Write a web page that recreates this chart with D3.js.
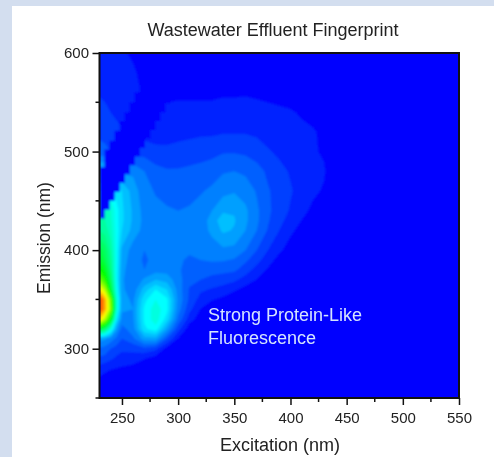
<!DOCTYPE html>
<html>
<head>
<meta charset="utf-8">
<script src="https://cdnjs.cloudflare.com/ajax/libs/d3/7.8.5/d3.min.js"></script>
<style>
  html, body { margin: 0; padding: 0; background: #fff; }
  text { font-family: "Liberation Sans", Arial, sans-serif; fill: #222; }
</style>
</head>
<body>
<div class="chart"></div>
<script>
// Grid, intensity in contour levels (0 = blue, 32 = red)
const excitation = [230,235,240,245,250,260,270,280,290,300,310,320,330,340,350,360,370,380,390,400,410,420,430,440];
const emission = [600,580,560,540,520,500,480,460,440,430,420,400,390,380,370,360,350,340,330,320,310,300,290,280,270,250];
// one row per emission value, missing columns on the right are 0
const intensity = [
  [1.3,1.3,1.3,1.2,1.1,0.9,0.6,0.2],
  [1.4,1.4,1.4,1.3,1.2,1.1,0.8,0.3,0.1,0.1,0.1,0.1,0.1,0.1,0.1,0.1,0.1],
  [1.9,1.8,1.7,1.6,1.4,1.2,0.9,0.7,0.8,0.8,0.8,0.8,0.8,0.9,0.9,0.9,0.8,0.7,0.6,0.5,0.3,0.2],
  [2.3,2.2,2.0,1.8,1.6,1.4,1.2,1.1,1.2,1.3,1.3,1.3,1.3,1.3,1.3,1.4,1.4,1.3,1.2,1.1,0.9,0.7,0.3],
  [2.8,2.7,2.5,2.3,2.1,1.8,1.5,1.3,1.4,1.6,1.7,1.8,1.8,1.9,1.9,1.9,1.8,1.6,1.4,1.3,1.2,1.1,0.8],
  [3.3,3.2,3.0,2.8,2.6,2.6,2.6,2.4,2.3,2.4,2.5,2.6,2.7,2.9,2.9,2.8,2.5,2.1,1.8,1.5,1.3,1.1,0.9,0.3],
  [6.5,6.5,6.0,5.5,4.8,4.8,4.0,3.3,3.1,3.1,3.2,3.3,3.5,3.9,4.0,3.8,3.4,2.8,2.3,1.9,1.6,1.3,1.1,0.3],
  [9.0,9.0,8.5,7.5,7.0,5.5,4.4,3.9,3.7,3.6,3.7,3.9,4.2,4.7,4.9,4.6,3.9,3.1,2.6,2.1,1.6,1.2,0.9,0.1],
  [11,11,10,8.5,7.2,5.8,4.6,4.3,4.1,4.0,4.1,4.4,5.0,5.8,5.9,5.2,4.2,3.2,2.5,1.9,1.3,0.8,0.4],
  [11.5,11,10.2,8.5,7.2,5.8,4.7,4.4,4.2,4.1,4.2,4.6,5.3,6.8,6.1,5.2,4.2,3.1,2.3,1.6,1.0,0.5,0.2],
  [12,11.5,10.5,8.7,7.0,5.6,4.6,4.4,4.2,4.1,4.2,4.6,5.2,6.2,5.9,5.0,4.0,2.9,2.0,1.2,0.7,0.3],
  [14.5,13.5,11.5,8.7,5.8,4.5,4.0,4.2,4.2,4.1,4.1,4.3,4.6,4.8,4.7,4.0,3.0,2.0,1.2,0.6,0.2],
  [15.5,14,12,8.7,5.6,4.3,3.9,4.2,4.3,4.1,3.9,4.0,4.1,4.1,3.9,3.2,2.4,1.4,0.7,0.3],
  [17,15.5,12.5,8.5,5.4,4.1,4.0,4.6,4.6,4.1,3.7,3.5,3.5,3.3,3.2,2.5,1.6,0.9,0.4],
  [20.5,17.5,13.5,8.5,5.2,4.1,5.2,6.0,5.6,4.4,3.3,3.0,2.6,2.5,2.2,1.6,1.0,0.4],
  [25.5,22,15,9.0,5.2,4.4,6.5,8.0,7.0,4.6,2.9,2.2,1.9,1.6,1.2,0.7,0.3],
  [31,27,20,10,5.4,4.8,7.7,9.0,8.2,4.8,2.8,1.6,1.1,0.8,0.4,0.2],
  [31,27,21,10,5.2,5.0,8.2,9.6,8.3,4.5,2.3,1.0,0.5,0.2],
  [26,22,16,8.0,4.6,4.9,8.2,9.6,7.5,3.8,1.5,0.5],
  [15,13,9.5,5.5,3.6,4.6,7.8,8.6,5.5,2.4,0.5],
  [5.5,5.2,4.5,3.8,3.0,3.8,5.5,5.6,3.0,1.0],
  [3.8,3.6,3.0,2.6,2.2,2.3,2.7,2.3,0.7],
  [2.8,2.6,2.2,1.8,1.6,1.5,1.1,0.6],
  [1.5,1.3,1.1,1.0,0.9,0.7,0.2],
  [0.9,0.7,0.5,0.3,0.2,0.1],
  [0.2]
];
// masked (2nd order scatter) staircase band, also
const maskEx = [230,234.5,239,243.5,248,252.5,257,261.5,266,270.5,275,279.5,284,288.5,293];
const maskLow = [432,441,450,459,468,477,486,495,504,513,522,531,540,549,549];
const maskHigh = [484,502,511,521,531,540,550,560,570,580,600,600,600,600,600];

const xTicks = [250,300,350,400,450,500,550];
const xMinorTicks = [275,325,375,425,475,525];
const yTicks = [300,400,500,600];
const yMinorTicks = [250,350,450,550];
const levels = d3.range(1, 33);

const margin = { top: 53, right: 35, bottom: 59, left: 99.5 };
const width = 494 - margin.left - margin.right;
const height = 457 - margin.top - margin.bottom;

const xScale = d3.scaleLinear().domain([230, 550]).range([0, width]);
const yScale = d3.scaleLinear().domain([250, 600]).range([height, 0]);
const colorScale = d3.scaleLinear()
  .domain([0, 8, 16, 24, 32])
  .range(["#0000ff", "#00ffff", "#00ff00", "#ffff00", "#ff0000"]);

// grid index -> nm, the grid is not evenly spaced
const exAt = d3.scaleLinear().domain(d3.range(excitation.length)).range(excitation).clamp(true);
const emAt = d3.scaleLinear().domain(d3.range(emission.length)).range(emission).clamp(true);

const svg = d3.select(".chart").append("svg")
  .attr("width", 494)
  .attr("height", 457)
  .style("display", "block");

const defs = svg.append("defs");
defs.append("clipPath").attr("id", "plot").append("rect")
  .attr("width", width).attr("height", height);
defs.append("filter").attr("id", "soft").append("feGaussianBlur").attr("stdDeviation", 1.1);
defs.append("filter").attr("id", "softText").append("feGaussianBlur").attr("stdDeviation", 0.35);

// page strips on the left and top
svg.append("rect").attr("width", 12).attr("height", 457).attr("fill", "#d3deef");
svg.append("rect").attr("width", 494).attr("height", 6).attr("fill", "#d3deef");

const g = svg.append("g")
  .attr("transform", `translate(${margin.left},${margin.top})`);

const plot = g.append("g").attr("clip-path", "url(#plot)");
plot.append("rect").attr("width", width).attr("height", height).attr("fill", colorScale(0));

const contours = d3.contours()
  .size([excitation.length, emission.length])
  .thresholds(levels)(intensity.flatMap(row => excitation.map((_, i) => row[i] || 0)));

const toPlot = d3.geoTransform({
  point(x, y) {
    this.stream.point(xScale(exAt(x - 0.5)), yScale(emAt(y - 0.5)));
  }
});

const field = plot.append("g").attr("filter", "url(#soft)");
field.selectAll("path")
  .data(contours)
  .enter()
  .append("path")
  .attr("d", d3.geoPath(toPlot))
  .attr("fill", d => colorScale(d.value));

// scatter band goes on top as plain blue steps
field.append("path")
  .datum(maskEx)
  .attr("fill", colorScale(0))
  .attr("d", d3.area()
    .curve(d3.curveStepAfter)
    .x(d => xScale(d))
    .y0((d, i) => yScale(maskLow[i]))
    .y1((d, i) => yScale(maskHigh[i])));

// axes, major ticks and shorter minor ones
const xAxis = d3.axisBottom(xScale).tickValues(xTicks).tickSize(7).tickPadding(7);
const yAxis = d3.axisLeft(yScale).tickValues(yTicks).tickSize(7).tickPadding(3.5);

const xG = g.append("g").attr("transform", `translate(0,${height})`).call(xAxis);
const yG = g.append("g").call(yAxis);
xG.selectAll(".minor").data(xMinorTicks).enter().append("line").attr("class", "minor")
  .attr("x1", d => xScale(d)).attr("x2", d => xScale(d)).attr("y2", 4);
yG.selectAll(".minor").data(yMinorTicks).enter().append("line").attr("class", "minor")
  .attr("y1", d => yScale(d)).attr("y2", d => yScale(d)).attr("x2", -4);
g.selectAll(".tick line, .minor").attr("stroke", "#111").attr("stroke-width", 1.5);
g.selectAll(".domain").remove();
g.selectAll(".tick text").style("font-size", "15px").attr("filter", "url(#softText)");

g.append("rect")
  .attr("width", width).attr("height", height)
  .attr("fill", "none").attr("stroke", "#111").attr("stroke-width", 2);

svg.append("text").attr("x", 273).attr("y", 36).attr("text-anchor", "middle")
  .attr("filter", "url(#softText)")
  .style("font-size", "18px").text("Wastewater Effluent Fingerprint");
svg.append("text").attr("x", 280).attr("y", 451).attr("text-anchor", "middle")
  .attr("filter", "url(#softText)")
  .style("font-size", "18px").text("Excitation (nm)");
svg.append("text").attr("transform", "translate(50,238) rotate(-90)").attr("text-anchor", "middle")
  .attr("filter", "url(#softText)")
  .style("font-size", "17.5px").text("Emission (nm)");

const note = svg.append("text").attr("filter", "url(#softText)")
  .style("font-size", "18px").style("fill", "#d5e4ff");
note.append("tspan").attr("x", 208).attr("y", 321).text("Strong Protein-Like");
note.append("tspan").attr("x", 208).attr("y", 344).text("Fluorescence");
</script>
</body>
</html>
